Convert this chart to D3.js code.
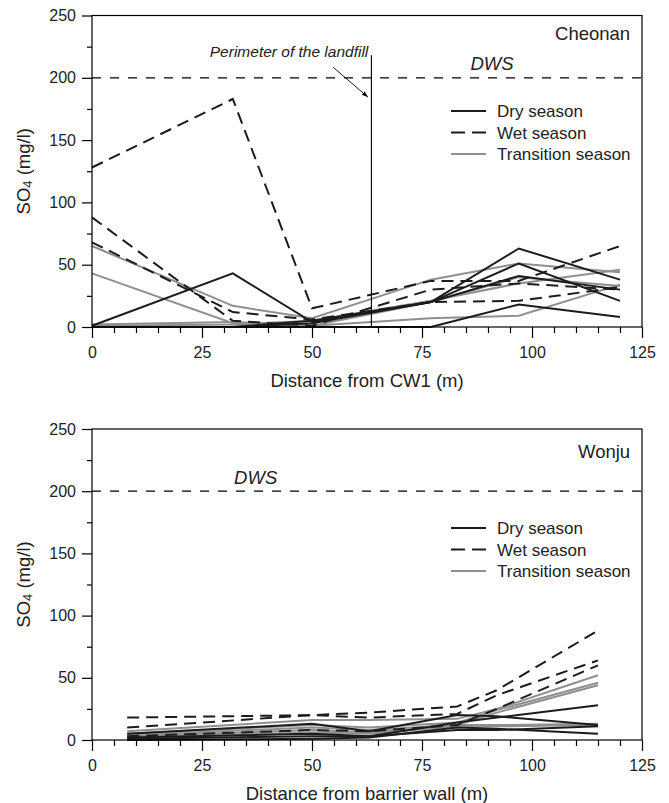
<!DOCTYPE html>
<html>
<head>
<meta charset="utf-8">
<script src="https://cdn.jsdelivr.net/npm/d3@7"></script>
<style>
  body { margin: 0; background: #fff; }
  svg { display: block; font-family: "Liberation Sans", Arial, sans-serif; }
  .axis path { display: none; }
  .axis line { stroke: #000; stroke-width: 1.2; }
  .axis text { font-size: 16px; fill: #222; font-family: "Liberation Sans", Arial, sans-serif; }
</style>
</head>
<body>
<div class="chart"></div>
<script>
// sampling distances (m)
const cheonanX = [0, 32, 50, 77, 97, 120];
const wonjuX = [8, 50, 63, 83, 92, 115];

// SO4 (mg/l) per well, Cheonan
const cheonanDry = [
  [1, 43, 4, 20, 63, 38],
  [0, 0, 5, 20, 51, 21],
  [0, 0, 3, 20, 41, 30],
  [0, 0, 0, 0, 18, 8]
];
const cheonanWet = [
  [128, 183, 15, 37, 37, 65],
  [88, 5, 1, 30, 35, 30],
  [68, 12, 6, 20, 21, 32]
];
const cheonanTransition = [
  [65, 17, 7, 38, 51, 44],
  [43, 3, 1, 20, 40, 33],
  [2, 4, 1, 7, 9, 34],
  [1, 2, 5, 21, 35, 46]
];

// SO4 (mg/l) per well, Wonju
const wonjuDry = [
  [5, 13, 7, 20, 19, 12],
  [2, 5, 3, 14, 18, 28],
  [1, 3, 3, 8, 8, 11],
  [0, 1, 2, 10, 9, 5]
];
const wonjuWet = [
  [18, 20, 22, 27, 40, 88],
  [10, 20, 18, 21, 36, 64],
  [3, 8, 7, 12, 25, 60]
];
const wonjuTransition = [
  [7, 16, 16, 17, 25, 52],
  [5, 12, 10, 14, 24, 46],
  [3, 8, 6, 12, 22, 44],
  [4, 10, 8, 12, 12, 13],
  [2, 6, 5, 11, 11, 12]
];

const seasons = ["Dry season", "Wet season", "Transition season"];
const dws = 200;
const perimeterX = 63.5;
const xTicks = [0, 25, 50, 75, 100, 125];
const yTicks = [0, 50, 100, 150, 200, 250];

const W = 669, H = 803;
const svg = d3.select(".chart").append("svg")
  .attr("width", W)
  .attr("height", H);

svg.append("defs").append("marker")
  .attr("id", "arrow")
  .attr("viewBox", "0 0 10 10")
  .attr("refX", 10).attr("refY", 5)
  .attr("markerWidth", 7).attr("markerHeight", 7)
  .attr("orient", "auto")
  .append("path")
  .attr("d", "M0,1.5L10,5L0,8.5Z")
  .attr("fill", "#000");

const style = {
  "Dry season": {stroke: "#1c1c1c", dash: null},
  "Wet season": {stroke: "#1c1c1c", dash: "12,7"},
  "Transition season": {stroke: "#8f8f8f", dash: null}
};

function panel(opt) {
  const x = d3.scaleLinear().domain([0, 125]).range([92, 642]);
  const y = d3.scaleLinear().domain([0, 250]).range([opt.bottom, opt.top]);
  const g = svg.append("g");

  // DWS limit
  g.append("line")
    .attr("x1", x(0)).attr("x2", x(125))
    .attr("y1", y(dws)).attr("y2", y(dws))
    .attr("stroke", "#000").attr("stroke-width", 1.2)
    .attr("stroke-dasharray", "9,9");
  g.append("text")
    .attr("x", x(opt.dwsX)).attr("y", y(206))
    .attr("font-size", 18.5).attr("font-style", "italic").attr("fill", "#222")
    .text("DWS");

  const line = d3.line()
    .x((d, i) => x(opt.xs[i]))
    .y(d => y(d));

  const groups = [
    ["Transition season", opt.transition],
    ["Dry season", opt.dry],
    ["Wet season", opt.wet]
  ];
  groups.forEach(([s, rows]) => {
    g.selectAll(null)
      .data(rows)
      .enter()
      .append("path")
      .attr("d", line)
      .attr("fill", "none")
      .attr("stroke", style[s].stroke)
      .attr("stroke-width", 2)
      .attr("stroke-linejoin", "miter")
      .attr("stroke-dasharray", style[s].dash);
  });

  if (opt.perimeter) {
    g.append("line")
      .attr("x1", x(perimeterX)).attr("x2", x(perimeterX))
      .attr("y1", y(0)).attr("y2", y(218))
      .attr("stroke", "#000").attr("stroke-width", 1.1);
    g.append("text")
      .attr("x", x(62.8)).attr("y", y(216.5))
      .attr("text-anchor", "end")
      .attr("font-size", 15.5).attr("font-style", "italic").attr("fill", "#222")
      .text("Perimeter of the landfill");
    g.append("line")
      .attr("x1", x(54.8)).attr("y1", y(208.5))
      .attr("x2", x(62.7)).attr("y2", y(184.5))
      .attr("stroke", "#000").attr("stroke-width", 0.9)
      .attr("marker-end", "url(#arrow)");
  }

  // site name
  g.append("text")
    .attr("x", x(122.3)).attr("y", y(opt.nameY))
    .attr("text-anchor", "end")
    .attr("font-size", 18.5).attr("fill", "#222")
    .text(opt.name);

  // legend
  const legend = g.append("g")
    .attr("transform", `translate(451,${opt.top + opt.legendTop})`);
  seasons.forEach((s, i) => {
    legend.append("line")
      .attr("x1", 0).attr("x2", 35)
      .attr("y1", i * 21.5).attr("y2", i * 21.5)
      .attr("stroke", style[s].stroke)
      .attr("stroke-width", 2)
      .attr("stroke-dasharray", s === "Wet season" ? "14,7" : null);
    legend.append("text")
      .attr("x", 46).attr("y", i * 21.5)
      .attr("dy", "0.36em")
      .attr("font-size", 17).attr("fill", "#222")
      .text(s);
  });

  // axes: major + minor ticks
  g.append("g").attr("class", "axis")
    .attr("transform", `translate(0,${opt.bottom})`)
    .call(d3.axisBottom(x).tickValues(xTicks).tickSize(11).tickPadding(9).tickFormat(d3.format("d")));
  g.append("g").attr("class", "axis")
    .attr("transform", `translate(0,${opt.bottom})`)
    .call(d3.axisBottom(x).tickValues(d3.range(5, 125, 5).filter(v => v % 25)).tickSize(6).tickFormat(""));
  g.append("g").attr("class", "axis")
    .attr("transform", `translate(92,0)`)
    .call(d3.axisLeft(y).tickValues(yTicks).tickSize(10).tickPadding(6).tickFormat(d3.format("d")));
  g.append("g").attr("class", "axis")
    .attr("transform", `translate(92,0)`)
    .call(d3.axisLeft(y).tickValues([25, 75, 125, 175, 225]).tickSize(5).tickFormat(""));

  g.append("rect")
    .attr("x", x(0)).attr("y", y(250))
    .attr("width", x(125) - x(0)).attr("height", y(0) - y(250))
    .attr("fill", "none").attr("stroke", "#000").attr("stroke-width", 1.2);

  // axis titles
  g.append("text")
    .attr("x", (x(0) + x(125)) / 2).attr("y", opt.bottom + 60)
    .attr("text-anchor", "middle")
    .attr("font-size", 18.5).attr("fill", "#222")
    .text(opt.xTitle);
  const yt = g.append("text")
    .attr("transform", `translate(30,${(opt.top + opt.bottom) / 2}) rotate(-90)`)
    .attr("text-anchor", "middle")
    .attr("font-size", 18.5).attr("fill", "#222");
  yt.append("tspan").text("SO");
  yt.append("tspan").attr("font-size", 13).attr("dy", 2).text("4");
  yt.append("tspan").attr("dy", -2).text(" (mg/l)");
}

panel({
  top: 15.5, bottom: 327, xs: cheonanX,
  dry: cheonanDry, wet: cheonanWet, transition: cheonanTransition,
  name: "Cheonan", nameY: 230, dwsX: 86, legendTop: 95.5,
  perimeter: true, xTitle: "Distance from CW1 (m)"
});
panel({
  top: 429, bottom: 740, xs: wonjuX,
  dry: wonjuDry, wet: wonjuWet, transition: wonjuTransition,
  name: "Wonju", nameY: 227, dwsX: 32.3, legendTop: 99,
  perimeter: false, xTitle: "Distance from barrier wall (m)"
});
</script>
</body>
</html>
